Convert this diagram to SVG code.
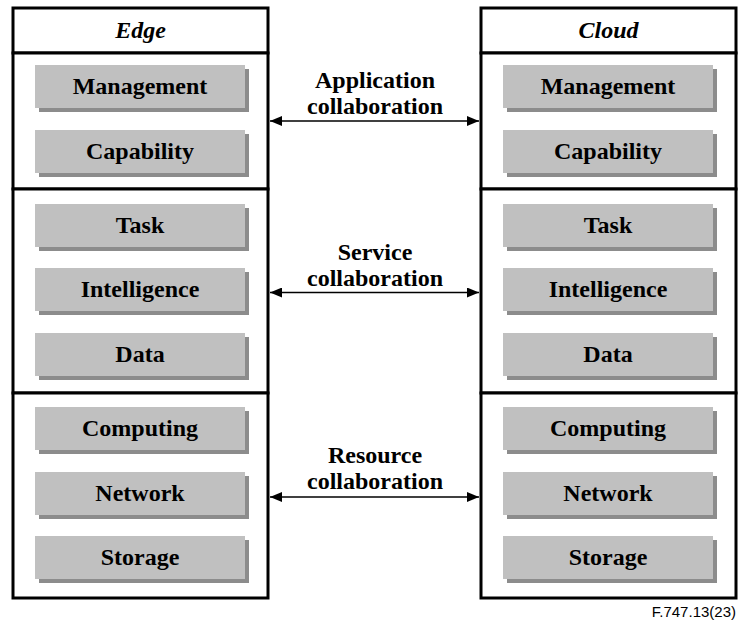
<svg xmlns="http://www.w3.org/2000/svg" width="739" height="624" viewBox="0 0 739 624">
<defs>
<style>
.frame{fill:#fff;stroke:#000;stroke-width:3}
.box{fill:#c0c0c0}
.shadow{fill:#8c8c8c}
.t{font-family:"Liberation Serif","Times New Roman",serif;font-weight:bold;font-size:24px;text-anchor:middle;fill:#000}
.hdr{font-style:italic}
.conn{stroke:#000;stroke-width:1.5;fill:none;marker-start:url(#ah);marker-end:url(#ah)}
.fig{font-family:"Liberation Sans",Arial,sans-serif;font-size:15px;text-anchor:end;fill:#000}
</style>
<marker id="ah" viewBox="0 0 12 10" refX="12" refY="5" markerWidth="12" markerHeight="10" markerUnits="userSpaceOnUse" orient="auto-start-reverse">
<path d="M0,0 L12,5 L0,10 Z" fill="#000"/>
</marker>
<g id="item">
<rect class="shadow" x="4" y="4" width="210" height="43"/>
<rect class="box" x="0" y="0" width="210" height="43"/>
</g>
</defs>
<rect width="739" height="624" fill="#fff"/>

<g id="edge">
<rect class="frame" x="13" y="8" width="255" height="45"/>
<text class="t hdr" x="140.5" y="38">Edge</text>
<rect class="frame" x="13" y="53" width="255" height="136"/>
<rect class="frame" x="13" y="189" width="255" height="204"/>
<rect class="frame" x="13" y="393" width="255" height="205"/>
</g>
<g id="edge-management"><use href="#item" x="35" y="65"/><text class="t" x="140" y="94">Management</text></g>
<g id="edge-capability"><use href="#item" x="35" y="130"/><text class="t" x="140" y="159">Capability</text></g>
<g id="edge-task"><use href="#item" x="35" y="204"/><text class="t" x="140" y="233">Task</text></g>
<g id="edge-intelligence"><use href="#item" x="35" y="268"/><text class="t" x="140" y="297">Intelligence</text></g>
<g id="edge-data"><use href="#item" x="35" y="333"/><text class="t" x="140" y="362">Data</text></g>
<g id="edge-computing"><use href="#item" x="35" y="407"/><text class="t" x="140" y="436">Computing</text></g>
<g id="edge-network"><use href="#item" x="35" y="472"/><text class="t" x="140" y="501">Network</text></g>
<g id="edge-storage"><use href="#item" x="35" y="536"/><text class="t" x="140" y="565">Storage</text></g>

<g id="cloud">
<rect class="frame" x="481" y="8" width="255" height="45"/>
<text class="t hdr" x="608.5" y="38">Cloud</text>
<rect class="frame" x="481" y="53" width="255" height="136"/>
<rect class="frame" x="481" y="189" width="255" height="204"/>
<rect class="frame" x="481" y="393" width="255" height="205"/>
</g>
<g id="cloud-management"><use href="#item" x="503" y="65"/><text class="t" x="608" y="94">Management</text></g>
<g id="cloud-capability"><use href="#item" x="503" y="130"/><text class="t" x="608" y="159">Capability</text></g>
<g id="cloud-task"><use href="#item" x="503" y="204"/><text class="t" x="608" y="233">Task</text></g>
<g id="cloud-intelligence"><use href="#item" x="503" y="268"/><text class="t" x="608" y="297">Intelligence</text></g>
<g id="cloud-data"><use href="#item" x="503" y="333"/><text class="t" x="608" y="362">Data</text></g>
<g id="cloud-computing"><use href="#item" x="503" y="407"/><text class="t" x="608" y="436">Computing</text></g>
<g id="cloud-network"><use href="#item" x="503" y="472"/><text class="t" x="608" y="501">Network</text></g>
<g id="cloud-storage"><use href="#item" x="503" y="536"/><text class="t" x="608" y="565">Storage</text></g>

<g id="connectors">
<line class="conn" x1="270" y1="121" x2="479" y2="121"/>
<text class="t" x="375" y="88">Application</text>
<text class="t" x="375" y="114">collaboration</text>
<line class="conn" x1="270" y1="292.5" x2="479" y2="292.5"/>
<text class="t" x="375" y="260">Service</text>
<text class="t" x="375" y="286">collaboration</text>
<line class="conn" x1="270" y1="497" x2="479" y2="497"/>
<text class="t" x="375" y="463">Resource</text>
<text class="t" x="375" y="489">collaboration</text>
</g>

<text class="fig" x="736" y="617">F.747.13(23)</text>
</svg>
